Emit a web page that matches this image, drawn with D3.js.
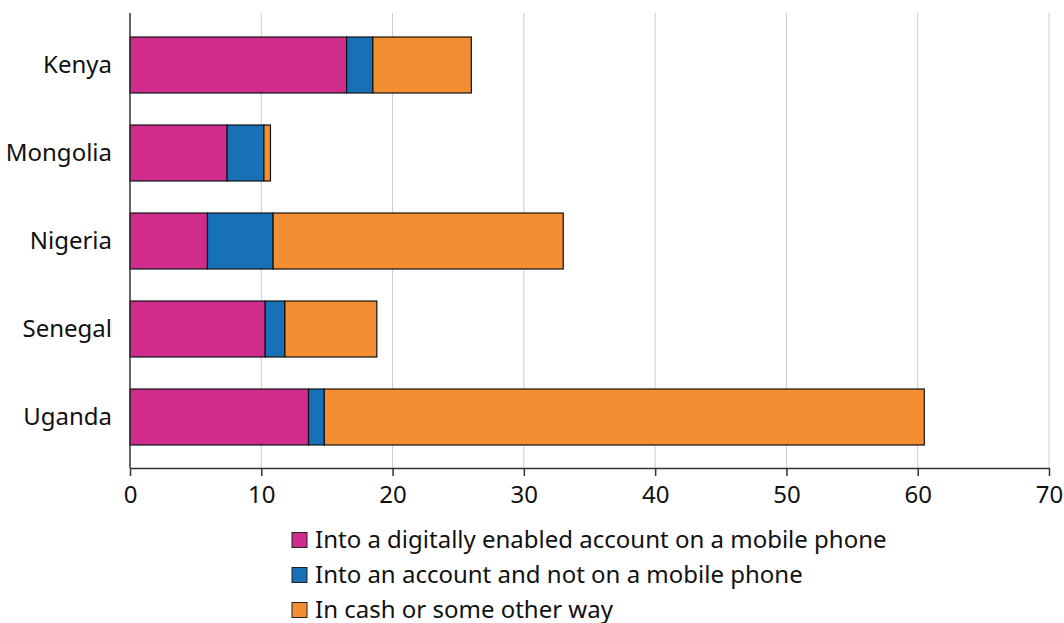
<!DOCTYPE html>
<html>
<head>
<meta charset="utf-8">
<script src="https://cdn.jsdelivr.net/npm/d3@7"></script>
<style>
  html, body { margin: 0; padding: 0; background: #fff; }
  svg { display: block; font-family: "Noto Sans", "Open Sans", sans-serif; }
</style>
</head>
<body>
<svg id="chart" width="1064" height="623"></svg>
<script>
const categories = ["Kenya", "Mongolia", "Nigeria", "Senegal", "Uganda"];
const seriesNames = [
  "Into a digitally enabled account on a mobile phone",
  "Into an account and not on a mobile phone",
  "In cash or some other way"
];
const mobileValues = [16.5, 7.4, 5.9, 10.3, 13.6];
const accountValues = [2.0, 2.8, 5.0, 1.5, 1.2];
const cashValues = [7.5, 0.5, 22.1, 7.0, 45.7];
const xTicks = [0, 10, 20, 30, 40, 50, 60, 70];
const colors = ["#d02c8e", "#1671b7", "#f38e33"];

const svg = d3.select("#chart");
const plotLeft = 130, plotRight = 1049, plotTop = 13, axisY = 468;

const x = d3.scaleLinear().domain([0, 70]).range([plotLeft, plotRight]);
const y = d3.scaleBand().domain(categories).range([21, 461]).paddingInner(0.364).paddingOuter(0.182);

// gridlines
svg.append("g").selectAll("line").data(xTicks.filter(d => d > 0)).join("line")
  .attr("x1", d => x(d)).attr("x2", d => x(d))
  .attr("y1", plotTop).attr("y2", axisY)
  .attr("stroke", "#cccccc").attr("stroke-width", 1);

// stacked data
const rows = categories.map((c, i) => ({ cat: c, s0: mobileValues[i], s1: accountValues[i], s2: cashValues[i] }));
const stacked = d3.stack().keys(["s0", "s1", "s2"])(rows);

svg.append("g").selectAll("g").data(stacked).join("g")
  .attr("fill", (d, i) => colors[i])
  .selectAll("rect").data(d => d).join("rect")
  .attr("x", d => x(d[0]))
  .attr("y", d => y(d.data.cat))
  .attr("width", d => x(d[1]) - x(d[0]))
  .attr("height", y.bandwidth())
  .attr("stroke", "#111").attr("stroke-width", 1.2);

// left axis line
svg.append("line").attr("x1", plotLeft).attr("x2", plotLeft).attr("y1", plotTop).attr("y2", axisY)
  .attr("stroke", "#333").attr("stroke-width", 1.5);

// bottom axis
const xAxis = d3.axisBottom(x).tickValues(xTicks).tickSize(8).tickPadding(10).tickSizeOuter(0);
const gx = svg.append("g").attr("transform", `translate(0,${axisY})`).call(xAxis);
gx.select(".domain").attr("stroke", "#333").attr("stroke-width", 1.5);
gx.selectAll(".tick line").attr("stroke", "#333").attr("stroke-width", 1.5);
gx.selectAll(".tick text").attr("font-size", 24).attr("font-family", "Noto Sans").attr("fill", "#111");

// category labels
svg.append("g").selectAll("text").data(categories).join("text")
  .attr("x", 112).attr("y", d => y(d) + y.bandwidth() / 2)
  .attr("dy", "0.35em").attr("text-anchor", "end")
  .attr("font-size", 24).attr("fill", "#111").text(d => d);

// legend
const lg = svg.append("g").selectAll("g").data(seriesNames).join("g")
  .attr("transform", (d, i) => `translate(292,${540 + i * 35})`);
lg.append("rect").attr("x", 0).attr("y", -7.5).attr("width", 15).attr("height", 15)
  .attr("fill", (d, i) => colors[i]).attr("stroke", "#222").attr("stroke-width", 1);
lg.append("text").attr("x", 23).attr("y", 0).attr("dy", "0.35em")
  .attr("font-size", 24).attr("fill", "#111").text(d => d);
</script>
</body>
</html>
